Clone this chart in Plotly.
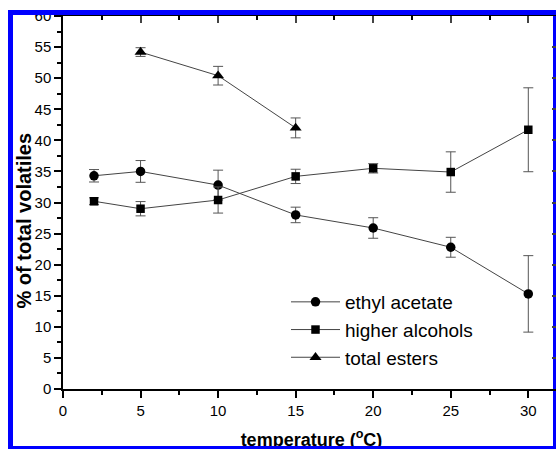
import plotly.graph_objects as go

# ---- data ----
temp_ea = [2, 5, 10, 15, 20, 25, 30]
ethyl_acetate = [34.3, 35.0, 32.8, 28.0, 25.9, 22.8, 15.3]
ethyl_acetate_err = [1.0, 1.75, 2.4, 1.25, 1.65, 1.6, 6.15]

temp_ha = [2, 5, 10, 15, 20, 25, 30]
higher_alcohols = [30.2, 29.0, 30.4, 34.2, 35.5, 34.9, 41.7]
higher_alcohols_err = [0.55, 1.15, 2.1, 1.15, 0.75, 3.25, 6.75]

temp_te = [5, 10, 15]
total_esters = [54.2, 50.4, 42.0]
total_esters_err = [0.7, 1.5, 1.6]

x_ticks = [0, 5, 10, 15, 20, 25, 30]
y_ticks = [0, 5, 10, 15, 20, 25, 30, 35, 40, 45, 50, 55, 60]

x_title = "<b>temperature (<sup>o</sup>C)</b>"
y_title = "<b>% of total volatiles</b>"

# ---- geometry (pixels) ----
W, H = 556, 449
L, R, T, B = 63, 0, 16, 0
AXIS_BOTTOM = 389          # pixel row of the x axis
pw, ph = W - L - R, H - T - B
XMAX = pw / 15.51
YMAX = 60
YDOM0 = (H - AXIS_BOTTOM) / ph   # main y domain starts here (paper)


def px(p):
    return (p - L) / pw


def py(p):
    return (H - B - p) / ph


font_main = "Liberation Sans, Arial, sans-serif"
line_col = "#444444"
err = dict(type="data", thickness=1, width=5, color="#555555")

fig = go.Figure()
series = [
    ("ethyl acetate", temp_ea, ethyl_acetate, ethyl_acetate_err, "circle", 9.5),
    ("higher alcohols", temp_ha, higher_alcohols, higher_alcohols_err, "square", 8.5),
    ("total esters", temp_te, total_esters, total_esters_err, "triangle-up", 10.5),
]
for i, (name, xs, ys, es, sym, sz) in enumerate(series):
    fig.add_trace(go.Scatter(
        x=xs, y=ys, name=name, mode="lines+markers",
        line=dict(color=line_col, width=1),
        marker=dict(symbol=sym, size=sz, color="black"),
        error_y=dict(array=es, **err),
        legendgroup=f"g{i}",
    ))

# invisible helper trace so the mirrored (inward-tick) axes exist
fig.add_trace(go.Scatter(
    x=[None], y=[None], xaxis="x2", yaxis="y2", mode="markers",
    showlegend=False, hoverinfo="skip",
))

# x-axis title as a text trace in a hidden strip below the axis,
# so the blue frame is drawn over its lower edge
fig.add_trace(go.Scatter(
    x=[(311.5 - L) / pw], y=[(H - 441) / (H - AXIS_BOTTOM)],
    xaxis="x3", yaxis="y3", mode="text", text=[x_title],
    textfont=dict(family=font_main, size=18, color="black"),
    textposition="middle center", cliponaxis=False,
    showlegend=False, hoverinfo="skip",
))

axis_common = dict(
    showgrid=False, zeroline=False, color="black", automargin=False,
    tickfont=dict(family=font_main, size=15, color="black"),
)
hidden = dict(visible=False, showgrid=False, zeroline=False, fixedrange=True, automargin=False)

fig.update_layout(
    width=W, height=H,
    margin=dict(l=L, r=R, t=T, b=B, pad=0, autoexpand=False),
    paper_bgcolor="white",
    plot_bgcolor="rgba(0,0,0,0)",
    xaxis=dict(
        range=[0, XMAX], tickvals=x_ticks, ticks="outside", ticklen=7, tickwidth=1.5,
        showline=True, linewidth=1.5, linecolor="black", anchor="y",
        minor=dict(ticks="outside", ticklen=4, tickwidth=1.5, dtick=2.5, tick0=0, tickcolor="black"),
        **axis_common,
    ),
    yaxis=dict(
        domain=[YDOM0, 1],
        range=[0, YMAX], tickvals=y_ticks, ticks="outside", ticklen=7, tickwidth=1.5,
        showline=True, linewidth=1.5, linecolor="black", anchor="x",
        minor=dict(ticks="outside", ticklen=4, tickwidth=1.5, dtick=2.5, tick0=0, tickcolor="black"),
        **axis_common,
    ),
    xaxis2=dict(
        overlaying="x", side="top", anchor="y2", range=[0, XMAX], tickvals=x_ticks,
        ticks="inside", ticklen=7, tickwidth=1.5, showticklabels=False,
        showline=True, linewidth=1.5, linecolor="black", automargin=False,
        minor=dict(ticks="inside", ticklen=4, tickwidth=1.5, dtick=2.5, tick0=0, tickcolor="black"),
        showgrid=False, zeroline=False,
    ),
    yaxis2=dict(
        overlaying="y", side="right", anchor="x2", range=[0, YMAX], tickvals=y_ticks,
        ticks="inside", ticklen=4, tickwidth=1.5, showticklabels=False, automargin=False,
        showline=False, showgrid=False, zeroline=False,
    ),
    xaxis3=dict(domain=[0, 1], range=[0, 1], anchor="y3", **hidden),
    yaxis3=dict(domain=[0, YDOM0], range=[0, 1], anchor="x3", **hidden),
    legend=dict(
        x=px(286), y=py(283), xanchor="left", yanchor="top",
        font=dict(family=font_main, size=19, color="black"),
        bgcolor="rgba(0,0,0,0)", borderwidth=0,
        itemwidth=49, tracegroupgap=0, traceorder="grouped",
    ),
    showlegend=True,
    annotations=[dict(
        text=y_title, textangle=-90,
        xref="paper", yref="paper", x=px(23.5), y=py(221),
        xanchor="center", yanchor="middle", showarrow=False,
        font=dict(family=font_main, size=20, color="black"),
    )],
)

blue = "#0000ff"
shapes = [
    dict(type="line", xref="paper", yref="paper", x0=px(8), x1=px(558), y0=py(12.5), y1=py(12.5),
         line=dict(color=blue, width=5), layer="above"),
    dict(type="line", xref="paper", yref="paper", x0=px(10.5), x1=px(10.5), y0=py(10), y1=py(452),
         line=dict(color=blue, width=5), layer="above"),
    dict(type="line", xref="paper", yref="paper", x0=px(8), x1=px(558), y0=py(448.5), y1=py(448.5),
         line=dict(color=blue, width=5), layer="above"),
    dict(type="line", xref="paper", yref="paper", x0=px(555.5), x1=px(555.5), y0=py(10), y1=py(452),
         line=dict(color=blue, width=5), layer="below"),
]
fig.update_layout(shapes=shapes)

fig.write_html("out.html")
